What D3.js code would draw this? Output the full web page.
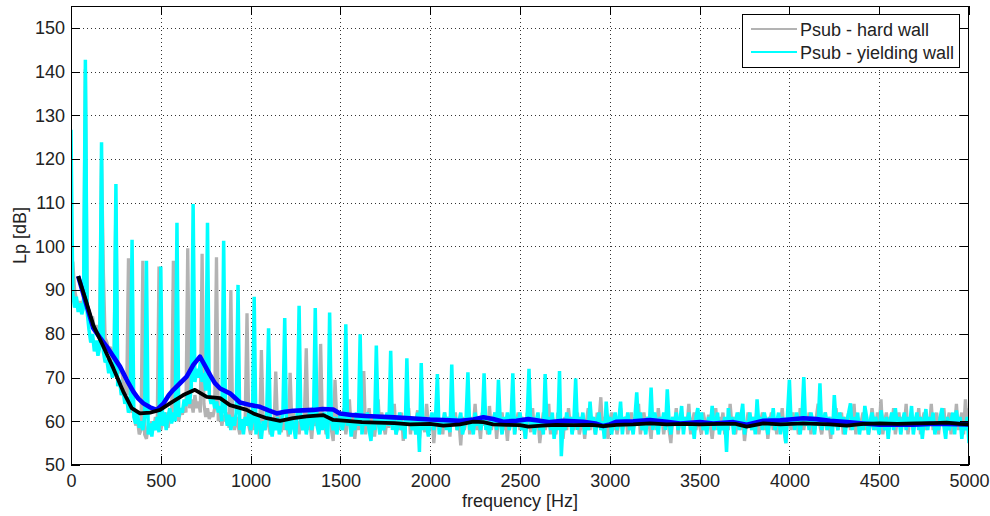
<!DOCTYPE html>
<html><head><meta charset="utf-8">
<script src="https://cdn.jsdelivr.net/npm/d3@7"></script>
<style>
html,body{margin:0;padding:0;background:#fff;}
svg{display:block;font-family:"Liberation Sans",Arial,sans-serif;}
</style></head>
<body>
<svg id="chart" width="990" height="516"></svg>
<script>
// ---------- data ----------
const freqStep = 10;           // Hz between samples of the spectra
const xTicks = [0,500,1000,1500,2000,2500,3000,3500,4000,4500,5000];
const yTicks = [50,60,70,80,90,100,110,120,130,140,150];
const seriesNames = ["Psub - hard wall", "Psub - yielding wall"];

// Psub - hard wall (Lp in dB, 0..5000 Hz every 10 Hz)
const hardWall = [
95,96.5,90,88,86,87.5,85,88,140.5,86,
84,82.5,84,81,82,80,81.5,120,94.6,79,
78,76.5,77,74,75,110,73,71,72,69,
68,66,97.3,64,62,63,59,60.5,57,58,
96.7,57,56,59,57.5,60,58,61,59,95.4,
58,60,59,62,58.5,61,60,96.7,61,62,
60,63,61.5,64,62,99.6,63,65,62,66,
63,64.5,62,98.3,64,61,63,60.5,62,61,
63,97.5,60,62,59,61.5,60,62,58.5,90,
60,58,61,59,57,60.5,58,61,84.7,59,
57,60,58,61.5,59,56,76.3,60,58,62,
59,57,60,58,71.4,59,62,57.5,60,58,
61,56.5,71.1,59,62,58,60,57,61,59,
62,76.7,58,60,56,61,59,63,58,77.7,
59,61,57,60,62,58,55.5,69.5,60,58,
61,59,63,57,60,65,58,61,56,60,
58,62,59,71.5,57,60,63,58,61,56.5,
60,65,58,62,59,57,61,58.5,63,59,
64,57,60,58,62,55.5,60,59,63,57,
61,58,60,62.5,56,59,61,57.5,64,59,
58,61,55,60,63,58,60.5,57,62,59,
61,56.5,65,59,62,58,60,54.5,61,58,
60,63,57,61,59,64,58,60,56,62,
59,61,57,63.5,58,60,62,56,61,59,
62,58,60,55.5,61,59,64,57,60,62,
58,61,59,56,62,60,57.5,63,58,60,
61,55,59,62,58,60,64,57,61,59,
57,62,59,60.5,56,61,58,63,59,61,
58,60,62,57,59,61.5,56,60,63,58,
61,59,57,62,60,65.5,58,61,59,56,
60,62,58,61,57,59.5,63,58,60,61,
57,60,62,58,61,59,64,57,60,62,
58,61,59,56,62,60,58,63,59,61,
57,60,62,58,55,61,59,63,57,60,
62,58,61,59,64,57,60,62,58,61,
59,57,62,60,58,61.5,59,56,60,63,
58,61,59,62,57,60,58,64,59,61,
57,60,62,58,61,55.5,59,62,60,58,
61,59,63,57,60,62,58,61,56,60,
62,58,60,57,61,59,63,58,55,61,
60,58,62,59,61,57,63,60,58,61,
59,62,57,60,58,61,64,59,57,60,
62,58,60,56,61,59,63,58,60,62,
57,61,59,62,58,60,64,57,61,59,
60,62,58,61,57,59,63,60,58,62,
59,65,57,60,62,58,61,59,63,57,
60,62,58,61,59,64,57,60,62,58,
61,59,63,57,60,62,58,61,59,64,
58,60,62,57,61,59,63,58,60,62,
57,61,59,64,58,60,62,57,65,59,
63];

// Psub - yielding wall (Lp in dB, 0..5000 Hz every 10 Hz)
const yieldingWall = [
126.7,89,86,88.5,85,87,84.5,86,142.7,85,
81,78,80,76,78.5,75,77,123.8,76,73.5,
74,71,73,70,71.5,114.3,68,69.5,66,67,
64,65.5,62,63,101.5,61,59.5,62,58.5,60,
58,61,96.7,57,59.5,56.5,60,58,61,57.5,
95.4,59,62,58,61,63,59.5,62,60,105.4,
61,63,62,65,63.5,66,64,68,109.7,69,
72,70,73.5,69,71,67,105.4,66,64,65.5,
63,64.5,62,63.5,60,101.3,62,59,61.5,58,
61,59,62,91.2,58,60.5,57,61,59,62,
58,60,88.5,57,61,59,56,60,58,62,
81.3,59,56.5,60,58,61,57,59.5,62,83.6,
58,60,57,61,59,56,62,86.4,60,58,
61,57,60,62.5,58,60,85.9,59,57,61,
58,62,59,56,84.9,60,58,61,57,60,
62,58,60,82.2,59,61,56.5,60,58,62,
59,79.9,57,61,59,62,58,55.5,60,58,
77.3,60,57,61,58,60,62,59,76.1,58,
61,57,59,62,58,60,56,74.4,59,61,
58,60,57,62,53,73.3,58,61,59,56.5,
60,62,58,61,70.8,57,60,59,62,58,
61,57.5,73.0,59,61,58,60,62,57,59,
61,71.2,58,60,57,62,59,61,58,60,
71.0,58,60,57,61,59,62,58,69.5,60,
57,61,59,62,58,60,71.0,57,61,59,
62,58,60,56,61,72.0,59,61,57,60,
62,58,60,57,70.8,59,61,58,62,56,
60,58,71.5,52,60,58,62,59,61,57,
60,69.8,58,61,59,62,57,60,58,64.5,
59,61,57,60,62,58,60,56,64.5,59,
61,57,60,62,58,60,64.5,57,61,59,
62,58,60,57,61,66.6,59,62,58,60,
57,61,59,67.7,58,62,60,57,61,59,
62,58,67.3,60,57,61,59,62,58,60,
63.5,57,61,59,62,58,60,56,61,63,
59,62,58,60,57,61,59,63.5,58,60,
62,57,60,58,61,53,63,59,61,57,
60,62,58,61,64,57,60,59,62,58,
61,57,65,59,61,58,62,60,57,61,
59,63,58,60,62,57,61,59,55,62,
69.5,59,61,58,62,60,57,61,70.1,59,
61,58,62,60,57,61,59,68.7,58,60,
62,58,61,59,57,66.0,60,58,62,59,
61,57,60,62,64.1,58,61,59,62,57,
60,58,63.5,61,57,60,62,58,61,59,
57,62.5,60,58,61,56,60,62,58,63,
59,61,57,60,62,58,61,59,63.5,57,
60,62,58,61,56,60,62.8,58,61,59,
62,57,60,58,61,63,59,56,61,58,
60,62,57,62.5,59,61,56,60,58,61,
55];

// smoothed levels (black = hard wall, blue = yielding wall)
const hardSmoothF = [40,80,124,180,236,291,338,384,440,496,551,625,690,756,830,885,978,1015,1090,1164,1238,1312,1405,1460,1535,1620,1702,1800,1888,1999,2073,2166,2240,2296,2350,2426,2500,2546,2620,2700,2800,2900,2964,3038,3130,3224,3317,3420,3500,3600,3700,3762,3855,3950,4077,4150,4226,4320,4411,4504,4600,4700,4800,4876,4950,5000];
const hardSmoothLp = [93.2,88,82.0,77.1,72.1,66.8,63.0,61.8,62.0,62.6,64.1,66.0,67.2,65.6,65.3,63.7,62.6,61.8,60.7,60.1,60.7,61.1,61.4,60.3,60.1,59.8,59.7,59.6,59.3,59.4,59.0,59.3,59.9,59.8,59.3,59.2,59.1,58.8,59.0,59.2,59.1,59.2,58.9,59.2,59.3,59.5,59.3,59.4,59.3,59.4,59.4,58.8,59.5,59.3,59.5,59.4,59.3,59.0,59.4,59.5,59.4,59.5,59.6,59.7,59.4,59.3];
const yieldSmoothF = [40,80,124,160,199,236,273,310,347,375,403,440,477,514,545,570,607,644,681,718,745,774,800,830,885,941,1000,1052,1100,1145,1190,1238,1290,1349,1400,1460,1498,1572,1640,1702,1800,1888,1999,2073,2166,2240,2296,2350,2407,2480,2546,2600,2667,2741,2800,2853,2920,2964,3000,3038,3130,3224,3317,3391,3502,3576,3688,3762,3855,3950,4000,4077,4150,4226,4320,4411,4504,4600,4690,4780,4876,5000];
const yieldSmoothLp = [93.2,87.5,81.3,79.2,77.1,74.8,72.5,69.5,66.8,65.2,64.1,63.2,62.6,64.0,66.0,67.2,68.7,70.2,72.9,74.8,72.8,70.6,68.8,67.5,66.4,64.3,63.7,63.3,62.5,61.8,62.2,62.4,62.5,62.6,62.8,62.7,61.8,61.4,61.2,61.1,60.9,60.7,60.4,60.3,60.1,60.4,60.9,60.5,59.9,60.1,60.5,60.2,59.8,60.1,60.0,59.9,59.5,58.9,59.3,59.9,60.0,60.3,59.9,59.5,59.8,59.5,59.8,59.2,60.1,60.2,60.4,60.7,60.5,60.1,59.8,59.5,59.2,59.3,59.2,59.4,59.4,59.3];

// ---------- drawing ----------
const svg = d3.select("#chart");
const L = 71, R = 969, T = 6, B = 465;
const x = d3.scaleLinear().domain([0, 5000]).range([L, R]);
const y = d3.scaleLinear().domain([50, 155]).range([B, T]);
const FONT = 18, TXT = "#222";

svg.append("rect").attr("width", 990).attr("height", 516).attr("fill", "#fff");
svg.append("defs").append("clipPath").attr("id", "clip")
  .append("rect").attr("x", L).attr("y", T).attr("width", R - L).attr("height", B - T);

// grid
const grid = svg.append("g").attr("stroke", "#333").attr("stroke-width", 1)
  .attr("stroke-dasharray", "1,3").attr("shape-rendering", "crispEdges");
grid.selectAll(".gx").data(xTicks.slice(1, -1)).join("line")
  .attr("x1", d => Math.round(x(d)) + 0.5).attr("x2", d => Math.round(x(d)) + 0.5)
  .attr("y1", T).attr("y2", B);
grid.selectAll(".gy").data(yTicks.slice(1)).join("line")
  .attr("y1", d => Math.round(y(d)) + 0.5).attr("y2", d => Math.round(y(d)) + 0.5)
  .attr("x1", L).attr("x2", R);

const plot = svg.append("g").attr("clip-path", "url(#clip)");
const spec = d3.line().x((d, i) => x(i * freqStep)).y(d => y(d));
const smooth = d3.line().x(d => x(d[0])).y(d => y(d[1]));

plot.append("path").datum(hardWall).attr("d", spec)
  .attr("fill", "none").attr("stroke", "#b3b3b3").attr("stroke-width", 3.3).attr("stroke-linejoin", "bevel");
plot.append("path").datum(yieldingWall).attr("d", spec)
  .attr("fill", "none").attr("stroke", "#00ffff").attr("stroke-width", 3.5).attr("stroke-linejoin", "bevel");
plot.append("path").datum(d3.zip(yieldSmoothF, yieldSmoothLp)).attr("d", smooth)
  .attr("fill", "none").attr("stroke", "#0000ff").attr("stroke-width", 4.6).attr("stroke-linejoin", "round");
plot.append("path").datum(d3.zip(hardSmoothF, hardSmoothLp)).attr("d", smooth)
  .attr("fill", "none").attr("stroke", "#000").attr("stroke-width", 3.8).attr("stroke-linejoin", "round");

// axes (ticks inside, MATLAB style)
function styleAxis(g) {
  g.select(".domain").remove();
  g.selectAll(".tick line").attr("stroke", "#000").attr("shape-rendering", "crispEdges");
  g.selectAll("text").attr("font-size", FONT).attr("fill", TXT).attr("font-family", '"Liberation Sans",Arial,sans-serif');
}
svg.append("g").attr("transform", `translate(0,${B})`)
  .call(d3.axisBottom(x).tickValues(xTicks).tickSizeInner(-9).tickSizeOuter(0).tickPadding(9).tickFormat(d3.format("d")))
  .call(styleAxis);
svg.append("g").attr("transform", `translate(${L},0)`)
  .call(d3.axisLeft(y).tickValues(yTicks).tickSizeInner(-9).tickSizeOuter(0).tickPadding(6).tickFormat(d3.format("d")))
  .call(styleAxis);
svg.append("g").attr("transform", `translate(0,${T})`)
  .call(d3.axisTop(x).tickValues(xTicks).tickSizeInner(-9).tickSizeOuter(0).tickFormat(""))
  .call(styleAxis);
svg.append("g").attr("transform", `translate(${R},0)`)
  .call(d3.axisRight(y).tickValues(yTicks).tickSizeInner(-9).tickSizeOuter(0).tickFormat(""))
  .call(styleAxis);

// box
svg.append("rect").attr("x", L + 0.5).attr("y", T + 0.5).attr("width", R - L - 1).attr("height", B - T - 1)
  .attr("fill", "none").attr("stroke", "#000").attr("stroke-width", 1).attr("shape-rendering", "crispEdges");

// axis labels
svg.append("text").attr("x", (L + R) / 2).attr("y", 507).attr("text-anchor", "middle")
  .attr("font-size", FONT).attr("fill", TXT).text("frequency [Hz]");
svg.append("text").attr("transform", `translate(26,${(T + B) / 2}) rotate(-90)`).attr("text-anchor", "middle")
  .attr("font-size", FONT).attr("fill", TXT).text("Lp [dB]");

// legend
const lg = svg.append("g");
lg.append("rect").attr("x", 742.5).attr("y", 14.5).attr("width", 217).attr("height", 53)
  .attr("fill", "#fff").attr("stroke", "#000").attr("stroke-width", 1).attr("shape-rendering", "crispEdges");
const legendColors = ["#b3b3b3", "#00ffff"];
seriesNames.forEach((name, i) => {
  const cy = 29 + i * 23;
  lg.append("line").attr("x1", 751).attr("x2", 797).attr("y1", cy).attr("y2", cy)
    .attr("stroke", legendColors[i]).attr("stroke-width", 2);
  lg.append("text").attr("x", 800).attr("y", cy + 6.5).attr("font-size", FONT).attr("fill", TXT).text(name);
});
</script>
</body></html>
